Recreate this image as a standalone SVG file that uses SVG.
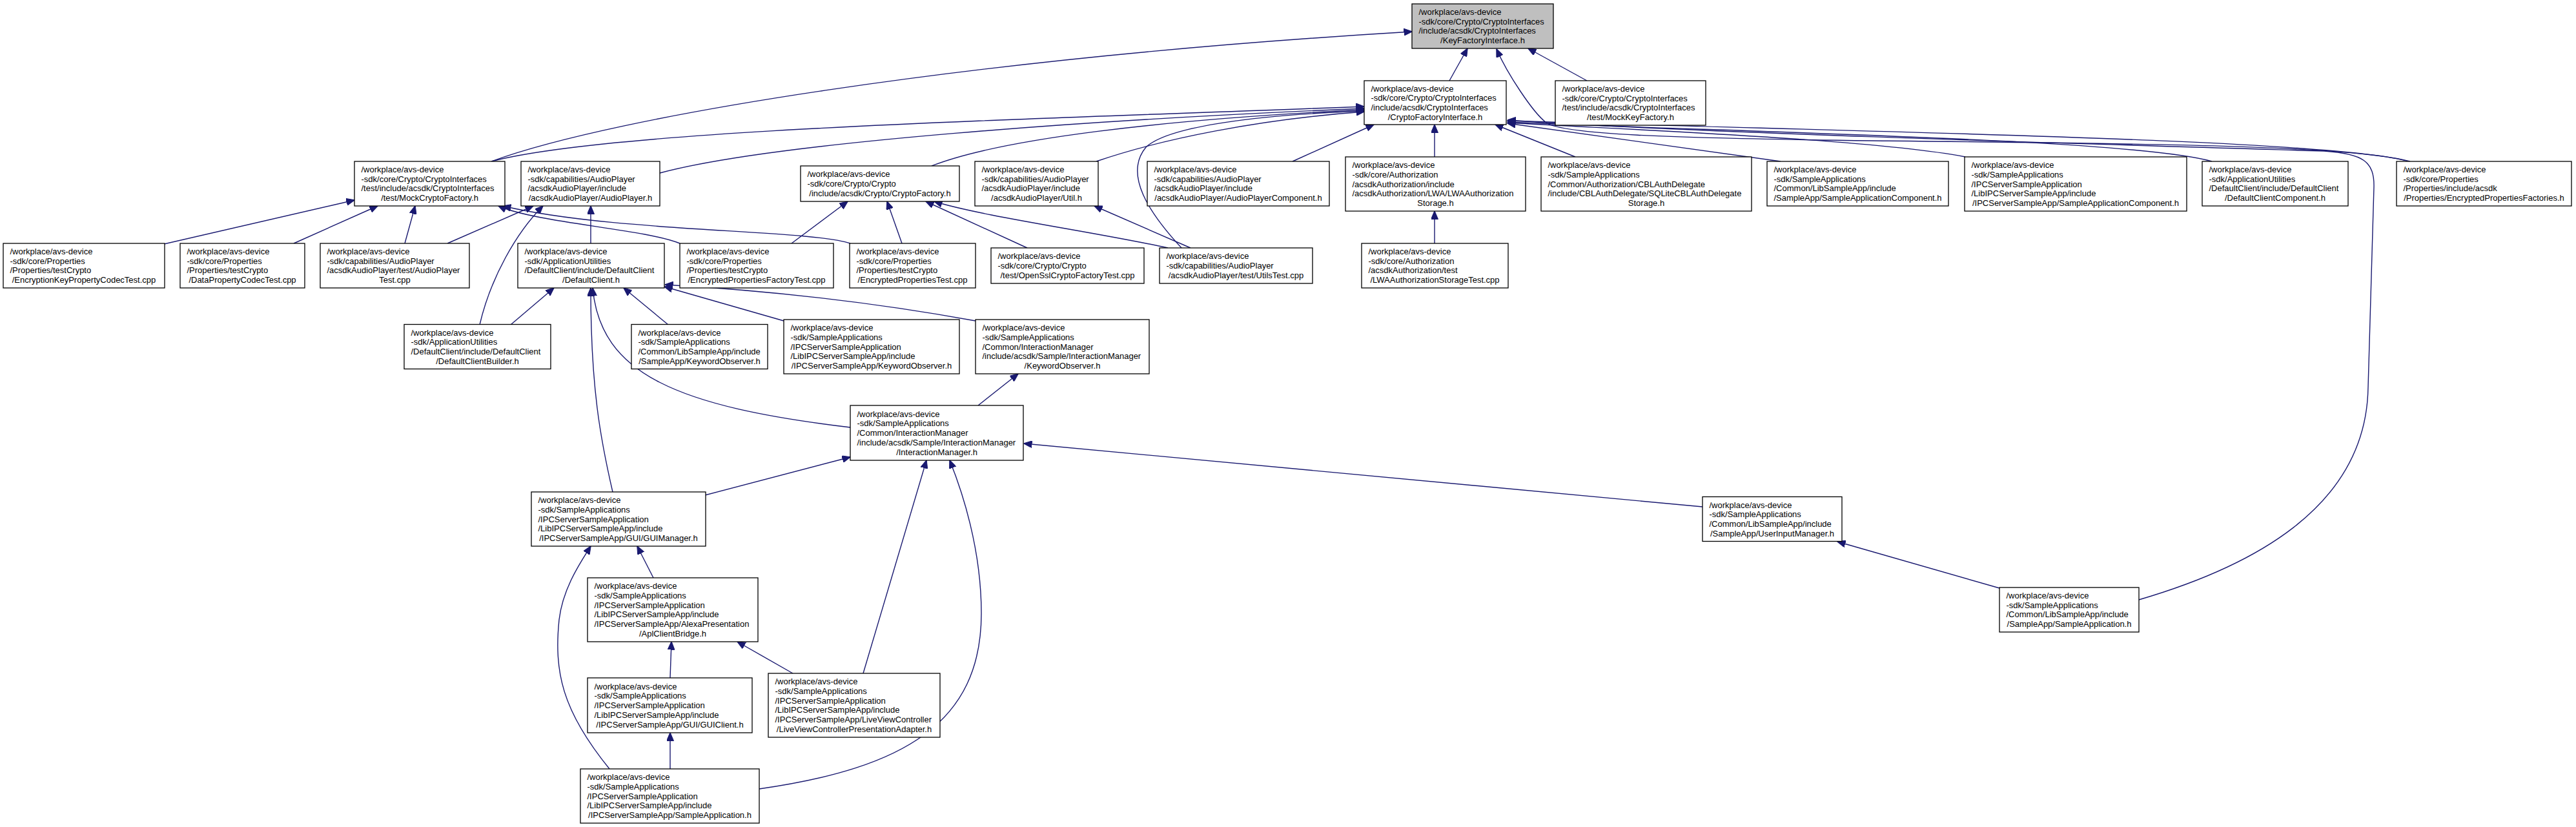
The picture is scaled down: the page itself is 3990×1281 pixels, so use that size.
<svg xmlns="http://www.w3.org/2000/svg" width="3990" height="1281" viewBox="0 0 3990 1281">
<style>
.node rect{fill:#fff;stroke:#000;stroke-width:1.3}
#n0 rect{fill:#bfbfbf}
text{font-family:"Liberation Sans",Arial,Helvetica,sans-serif;font-size:13px;fill:#000}
.c{text-anchor:middle}
.e{fill:none;stroke:#191970;stroke-width:1.4;marker-end:url(#arr)}
</style>
<defs>
<marker id="arr" markerUnits="userSpaceOnUse" markerWidth="13" markerHeight="11" viewBox="0 0 13 11" refX="12.5" refY="5.5" orient="auto"><path d="M0,0 L13,5.5 L0,11 z" fill="#191970" stroke="#191970"/></marker>
</defs>
<rect width="3990" height="1281" fill="#fff"/>
<g id="connectors">
<path class="e" d="M2245,125 L2273,75"/>
<path class="e" d="M2458,125 L2367,75"/>
<path class="e" d="M761,250 C950,180 1500,90 2187,49"/>
<path class="e" d="M3730,250 C3650,225 3300,222 2900,218 C2580,214 2420,208 2395,190 C2375,175 2335,115 2318,76"/>
<path class="e" d="M761,250 C950,200 1600,185 2113,165"/>
<path class="e" d="M1022,268 C1200,220 1700,185 2113,168"/>
<path class="e" d="M1443,257 C1550,215 1800,185 2113,170"/>
<path class="e" d="M1698,250 C1800,215 1950,185 2113,173"/>
<path class="e" d="M1830,384 C1780,330 1740,270 1775,228 C1810,195 1950,178 2113,172"/>
<path class="e" d="M2002,250 L2128,193"/>
<path class="e" d="M2222,243 L2222,193"/>
<path class="e" d="M2440,243 L2316,193"/>
<path class="e" d="M2758,250 L2335,191"/>
<path class="e" d="M3044,243 C2900,215 2500,200 2335,190"/>
<path class="e" d="M3426,250 C3300,215 2700,205 2335,189"/>
<path class="e" d="M3733,250 C3600,215 2900,205 2335,187"/>
<path class="e" d="M3313,929 C3480,880 3665,790 3668,600 L3677,290 C3678,250 3660,238 3600,234 C3300,225 2600,205 2335,186"/>
<path class="e" d="M254,378 L549,310"/>
<path class="e" d="M455,377 L585,319"/>
<path class="e" d="M627,377 L643,319"/>
<path class="e" d="M1053,377 C1000,355 830,345 772,319"/>
<path class="e" d="M1317,377 C1250,355 950,360 779,319"/>
<path class="e" d="M693,377 L826,319"/>
<path class="e" d="M915,377 L915,319"/>
<path class="e" d="M743,503 C760,430 800,360 841,319"/>
<path class="e" d="M1226,377 L1313,312"/>
<path class="e" d="M1397,377 L1374,312"/>
<path class="e" d="M1591,384 L1434,312"/>
<path class="e" d="M1809,384 C1700,360 1520,335 1447,312"/>
<path class="e" d="M1844,384 L1695,319"/>
<path class="e" d="M2222,377 L2222,327"/>
<path class="e" d="M791,503 L858,446"/>
<path class="e" d="M949,762 C930,680 915,600 915,446"/>
<path class="e" d="M1317,662 C1050,630 930,580 918,446"/>
<path class="e" d="M1035,503 L966,446"/>
<path class="e" d="M1214,497 L1029,444"/>
<path class="e" d="M1511,497 Q1280,455 1030,441"/>
<path class="e" d="M1515,628 L1577,579"/>
<path class="e" d="M1092,767 L1317,708"/>
<path class="e" d="M2637,785 L1586,687"/>
<path class="e" d="M1337,1043 L1435,713"/>
<path class="e" d="M1176,1222 C1400,1190 1520,1120 1520,950 C1520,850 1490,760 1471,713"/>
<path class="e" d="M1012,895 L987,846"/>
<path class="e" d="M944,1191 C870,1100 858,1040 866,960 C872,910 900,870 915,846"/>
<path class="e" d="M1038,1050 L1040,994"/>
<path class="e" d="M1228,1043 L1142,994"/>
<path class="e" d="M1038,1191 L1038,1135"/>
<path class="e" d="M3097,911 L2846,839"/>
</g>
<g id="n0" class="node"><rect x="2187" y="6" width="219" height="69"/>
<text x="2197.5" y="23.05">/workplace/avs-device</text><text x="2197.5" y="37.75">-sdk/core/Crypto/CryptoInterfaces</text><text x="2197.5" y="52.45">/include/acsdk/CryptoInterfaces</text><text class="c" x="2296.5" y="67.15">/KeyFactoryInterface.h</text></g>
<g id="n1" class="node"><rect x="2113" y="125" width="220" height="68"/>
<text x="2123.5" y="141.55">/workplace/avs-device</text><text x="2123.5" y="156.25">-sdk/core/Crypto/CryptoInterfaces</text><text x="2123.5" y="170.95">/include/acsdk/CryptoInterfaces</text><text class="c" x="2223" y="185.65">/CryptoFactoryInterface.h</text></g>
<g id="n2" class="node"><rect x="2409" y="125" width="233" height="69"/>
<text x="2419.5" y="142.05">/workplace/avs-device</text><text x="2419.5" y="156.75">-sdk/core/Crypto/CryptoInterfaces</text><text x="2419.5" y="171.45">/test/include/acsdk/CryptoInterfaces</text><text class="c" x="2525.5" y="186.15">/test/MockKeyFactory.h</text></g>
<g id="n3" class="node"><rect x="549" y="250" width="233" height="69"/>
<text x="559.5" y="267.05">/workplace/avs-device</text><text x="559.5" y="281.75">-sdk/core/Crypto/CryptoInterfaces</text><text x="559.5" y="296.45">/test/include/acsdk/CryptoInterfaces</text><text class="c" x="665.5" y="311.15">/test/MockCryptoFactory.h</text></g>
<g id="n4" class="node"><rect x="807" y="250" width="215" height="69"/>
<text x="817.5" y="267.05">/workplace/avs-device</text><text x="817.5" y="281.75">-sdk/capabilities/AudioPlayer</text><text x="817.5" y="296.45">/acsdkAudioPlayer/include</text><text class="c" x="914.5" y="311.15">/acsdkAudioPlayer/AudioPlayer.h</text></g>
<g id="n5" class="node"><rect x="1240" y="257" width="246" height="55"/>
<text x="1250.5" y="274.4">/workplace/avs-device</text><text x="1250.5" y="289.1">-sdk/core/Crypto/Crypto</text><text class="c" x="1363" y="303.8">/include/acsdk/Crypto/CryptoFactory.h</text></g>
<g id="n6" class="node"><rect x="1510" y="250" width="191" height="69"/>
<text x="1520.5" y="267.05">/workplace/avs-device</text><text x="1520.5" y="281.75">-sdk/capabilities/AudioPlayer</text><text x="1520.5" y="296.45">/acsdkAudioPlayer/include</text><text class="c" x="1605.5" y="311.15">/acsdkAudioPlayer/Util.h</text></g>
<g id="n7" class="node"><rect x="1777" y="250" width="282" height="69"/>
<text x="1787.5" y="267.05">/workplace/avs-device</text><text x="1787.5" y="281.75">-sdk/capabilities/AudioPlayer</text><text x="1787.5" y="296.45">/acsdkAudioPlayer/include</text><text class="c" x="1918" y="311.15">/acsdkAudioPlayer/AudioPlayerComponent.h</text></g>
<g id="n8" class="node"><rect x="2084" y="243" width="279" height="84"/>
<text x="2094.5" y="260.2">/workplace/avs-device</text><text x="2094.5" y="274.9">-sdk/core/Authorization</text><text x="2094.5" y="289.6">/acsdkAuthorization/include</text><text x="2094.5" y="304.3">/acsdkAuthorization/LWA/LWAAuthorization</text><text class="c" x="2223.5" y="319">Storage.h</text></g>
<g id="n9" class="node"><rect x="2387" y="243" width="326" height="84"/>
<text x="2397.5" y="260.2">/workplace/avs-device</text><text x="2397.5" y="274.9">-sdk/SampleApplications</text><text x="2397.5" y="289.6">/Common/Authorization/CBLAuthDelegate</text><text x="2397.5" y="304.3">/include/CBLAuthDelegate/SQLiteCBLAuthDelegate</text><text class="c" x="2550" y="319">Storage.h</text></g>
<g id="n10" class="node"><rect x="2737" y="250" width="281" height="69"/>
<text x="2747.5" y="267.05">/workplace/avs-device</text><text x="2747.5" y="281.75">-sdk/SampleApplications</text><text x="2747.5" y="296.45">/Common/LibSampleApp/include</text><text class="c" x="2877.5" y="311.15">/SampleApp/SampleApplicationComponent.h</text></g>
<g id="n11" class="node"><rect x="3043" y="243" width="344" height="84"/>
<text x="3053.5" y="260.2">/workplace/avs-device</text><text x="3053.5" y="274.9">-sdk/SampleApplications</text><text x="3053.5" y="289.6">/IPCServerSampleApplication</text><text x="3053.5" y="304.3">/LibIPCServerSampleApp/include</text><text class="c" x="3215" y="319">/IPCServerSampleApp/SampleApplicationComponent.h</text></g>
<g id="n12" class="node"><rect x="3411" y="250" width="226" height="69"/>
<text x="3421.5" y="267.05">/workplace/avs-device</text><text x="3421.5" y="281.75">-sdk/ApplicationUtilities</text><text x="3421.5" y="296.45">/DefaultClient/include/DefaultClient</text><text class="c" x="3524" y="311.15">/DefaultClientComponent.h</text></g>
<g id="n13" class="node"><rect x="3712" y="250" width="271" height="69"/>
<text x="3722.5" y="267.05">/workplace/avs-device</text><text x="3722.5" y="281.75">-sdk/core/Properties</text><text x="3722.5" y="296.45">/Properties/include/acsdk</text><text class="c" x="3847.5" y="311.15">/Properties/EncryptedPropertiesFactories.h</text></g>
<g id="n15" class="node"><rect x="5" y="377" width="250" height="69"/>
<text x="15.5" y="394.05">/workplace/avs-device</text><text x="15.5" y="408.75">-sdk/core/Properties</text><text x="15.5" y="423.45">/Properties/testCrypto</text><text class="c" x="130" y="438.15">/EncryptionKeyPropertyCodecTest.cpp</text></g>
<g id="n16" class="node"><rect x="279" y="377" width="193" height="69"/>
<text x="289.5" y="394.05">/workplace/avs-device</text><text x="289.5" y="408.75">-sdk/core/Properties</text><text x="289.5" y="423.45">/Properties/testCrypto</text><text class="c" x="375.5" y="438.15">/DataPropertyCodecTest.cpp</text></g>
<g id="n14" class="node"><rect x="496" y="377" width="231" height="69"/>
<text x="506.5" y="394.05">/workplace/avs-device</text><text x="506.5" y="408.75">-sdk/capabilities/AudioPlayer</text><text x="506.5" y="423.45">/acsdkAudioPlayer/test/AudioPlayer</text><text class="c" x="611.5" y="438.15">Test.cpp</text></g>
<g id="n17" class="node"><rect x="802" y="377" width="227" height="69"/>
<text x="812.5" y="394.05">/workplace/avs-device</text><text x="812.5" y="408.75">-sdk/ApplicationUtilities</text><text x="812.5" y="423.45">/DefaultClient/include/DefaultClient</text><text class="c" x="915.5" y="438.15">/DefaultClient.h</text></g>
<g id="n18" class="node"><rect x="1053" y="377" width="238" height="69"/>
<text x="1063.5" y="394.05">/workplace/avs-device</text><text x="1063.5" y="408.75">-sdk/core/Properties</text><text x="1063.5" y="423.45">/Properties/testCrypto</text><text class="c" x="1172" y="438.15">/EncryptedPropertiesFactoryTest.cpp</text></g>
<g id="n19" class="node"><rect x="1316" y="377" width="195" height="69"/>
<text x="1326.5" y="394.05">/workplace/avs-device</text><text x="1326.5" y="408.75">-sdk/core/Properties</text><text x="1326.5" y="423.45">/Properties/testCrypto</text><text class="c" x="1413.5" y="438.15">/EncryptedPropertiesTest.cpp</text></g>
<g id="n20" class="node"><rect x="1535" y="384" width="237" height="55"/>
<text x="1545.5" y="401.4">/workplace/avs-device</text><text x="1545.5" y="416.1">-sdk/core/Crypto/Crypto</text><text class="c" x="1653.5" y="430.8">/test/OpenSslCryptoFactoryTest.cpp</text></g>
<g id="n21" class="node"><rect x="1796" y="384" width="237" height="55"/>
<text x="1806.5" y="401.4">/workplace/avs-device</text><text x="1806.5" y="416.1">-sdk/capabilities/AudioPlayer</text><text class="c" x="1914.5" y="430.8">/acsdkAudioPlayer/test/UtilsTest.cpp</text></g>
<g id="n22" class="node"><rect x="2109" y="377" width="227" height="69"/>
<text x="2119.5" y="394.05">/workplace/avs-device</text><text x="2119.5" y="408.75">-sdk/core/Authorization</text><text x="2119.5" y="423.45">/acsdkAuthorization/test</text><text class="c" x="2222.5" y="438.15">/LWAAuthorizationStorageTest.cpp</text></g>
<g id="n23" class="node"><rect x="626" y="502.5" width="227" height="69"/>
<text x="636.5" y="519.55">/workplace/avs-device</text><text x="636.5" y="534.25">-sdk/ApplicationUtilities</text><text x="636.5" y="548.95">/DefaultClient/include/DefaultClient</text><text class="c" x="739.5" y="563.65">/DefaultClientBuilder.h</text></g>
<g id="n24" class="node"><rect x="978" y="502.5" width="211" height="69"/>
<text x="988.5" y="519.55">/workplace/avs-device</text><text x="988.5" y="534.25">-sdk/SampleApplications</text><text x="988.5" y="548.95">/Common/LibSampleApp/include</text><text class="c" x="1083.5" y="563.65">/SampleApp/KeywordObserver.h</text></g>
<g id="n25" class="node"><rect x="1214" y="495" width="272" height="84"/>
<text x="1224.5" y="512.2">/workplace/avs-device</text><text x="1224.5" y="526.9">-sdk/SampleApplications</text><text x="1224.5" y="541.6">/IPCServerSampleApplication</text><text x="1224.5" y="556.3">/LibIPCServerSampleApp/include</text><text class="c" x="1350" y="571">/IPCServerSampleApp/KeywordObserver.h</text></g>
<g id="n26" class="node"><rect x="1511" y="495" width="269" height="84"/>
<text x="1521.5" y="512.2">/workplace/avs-device</text><text x="1521.5" y="526.9">-sdk/SampleApplications</text><text x="1521.5" y="541.6">/Common/InteractionManager</text><text x="1521.5" y="556.3">/include/acsdk/Sample/InteractionManager</text><text class="c" x="1645.5" y="571">/KeywordObserver.h</text></g>
<g id="n27" class="node"><rect x="1317" y="628" width="268" height="85"/>
<text x="1327.5" y="645.7">/workplace/avs-device</text><text x="1327.5" y="660.4">-sdk/SampleApplications</text><text x="1327.5" y="675.1">/Common/InteractionManager</text><text x="1327.5" y="689.8">/include/acsdk/Sample/InteractionManager</text><text class="c" x="1451" y="704.5">/InteractionManager.h</text></g>
<g id="n28" class="node"><rect x="823" y="762" width="270" height="84"/>
<text x="833.5" y="779.2">/workplace/avs-device</text><text x="833.5" y="793.9">-sdk/SampleApplications</text><text x="833.5" y="808.6">/IPCServerSampleApplication</text><text x="833.5" y="823.3">/LibIPCServerSampleApp/include</text><text class="c" x="958" y="838">/IPCServerSampleApp/GUI/GUIManager.h</text></g>
<g id="n29" class="node"><rect x="2637" y="769.5" width="216" height="69"/>
<text x="2647.5" y="786.55">/workplace/avs-device</text><text x="2647.5" y="801.25">-sdk/SampleApplications</text><text x="2647.5" y="815.95">/Common/LibSampleApp/include</text><text class="c" x="2745" y="830.65">/SampleApp/UserInputManager.h</text></g>
<g id="n30" class="node"><rect x="910" y="895" width="264" height="99"/>
<text x="920.5" y="912.35">/workplace/avs-device</text><text x="920.5" y="927.05">-sdk/SampleApplications</text><text x="920.5" y="941.75">/IPCServerSampleApplication</text><text x="920.5" y="956.45">/LibIPCServerSampleApp/include</text><text x="920.5" y="971.15">/IPCServerSampleApp/AlexaPresentation</text><text class="c" x="1042" y="985.85">/AplClientBridge.h</text></g>
<g id="n34" class="node"><rect x="3097" y="910" width="216" height="69"/>
<text x="3107.5" y="927.05">/workplace/avs-device</text><text x="3107.5" y="941.75">-sdk/SampleApplications</text><text x="3107.5" y="956.45">/Common/LibSampleApp/include</text><text class="c" x="3205" y="971.15">/SampleApp/SampleApplication.h</text></g>
<g id="n31" class="node"><rect x="910" y="1050" width="255" height="85"/>
<text x="920.5" y="1067.7">/workplace/avs-device</text><text x="920.5" y="1082.4">-sdk/SampleApplications</text><text x="920.5" y="1097.1">/IPCServerSampleApplication</text><text x="920.5" y="1111.8">/LibIPCServerSampleApp/include</text><text class="c" x="1037.5" y="1126.5">/IPCServerSampleApp/GUI/GUIClient.h</text></g>
<g id="n32" class="node"><rect x="1190" y="1043" width="266" height="99"/>
<text x="1200.5" y="1060.35">/workplace/avs-device</text><text x="1200.5" y="1075.05">-sdk/SampleApplications</text><text x="1200.5" y="1089.75">/IPCServerSampleApplication</text><text x="1200.5" y="1104.45">/LibIPCServerSampleApp/include</text><text x="1200.5" y="1119.15">/IPCServerSampleApp/LiveViewController</text><text class="c" x="1323" y="1133.85">/LiveViewControllerPresentationAdapter.h</text></g>
<g id="n33" class="node"><rect x="899" y="1191" width="277" height="84"/>
<text x="909.5" y="1208.2">/workplace/avs-device</text><text x="909.5" y="1222.9">-sdk/SampleApplications</text><text x="909.5" y="1237.6">/IPCServerSampleApplication</text><text x="909.5" y="1252.3">/LibIPCServerSampleApp/include</text><text class="c" x="1037.5" y="1267">/IPCServerSampleApp/SampleApplication.h</text></g>
</svg>
